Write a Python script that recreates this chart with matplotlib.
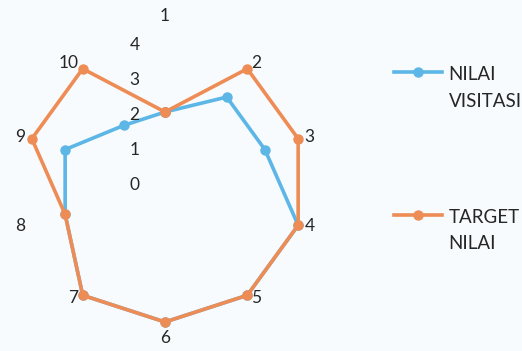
import numpy as np
import matplotlib
matplotlib.use("Agg")
import matplotlib.pyplot as plt
from matplotlib.legend_handler import HandlerLine2D

categories = ["1", "2", "3", "4", "5", "6", "7", "8", "9", "10"]
nilai_visitasi = [2, 3, 3, 4, 4, 4, 4, 3, 3, 2]
target_nilai = [2, 4, 4, 4, 4, 4, 4, 3, 4, 4]
radial_ticks = [0, 1, 2, 3, 4]
series_labels = ["NILAI\nVISITASI", "TARGET\nNILAI"]

BLUE = "#5cb6e6"
ORANGE = "#ee8c55"
BG = "#f8fbfd"
TXT = "#262626"
FONT = "Lato"
FS = 12.5
LFS = 13.5

plt.rcParams["font.family"] = [FONT, "DejaVu Sans"]

W, H = 522, 351
fig = plt.figure(figsize=(W / 100, H / 100), dpi=100, facecolor=BG)
cx, cy, R = 165, 182, 140
ax = fig.add_axes([(cx - R) / W, (H - cy - R) / H, 2 * R / W, 2 * R / H], projection="polar")
ax.set_facecolor("none")
ax.set_theta_zero_location("N")
ax.set_theta_direction(-1)
ax.set_ylim(0, max(radial_ticks))
ax.grid(False)
ax.spines["polar"].set_visible(False)
ax.set_xticks([])
ax.set_yticks([])

n = len(categories)
theta = np.arange(n) * 2 * np.pi / n
th = np.append(theta, theta[0])

lv, = ax.plot(th, nilai_visitasi + nilai_visitasi[:1], color=BLUE, lw=2.6,
              marker="o", ms=6.5, label=series_labels[0], zorder=3, clip_on=False)
lt, = ax.plot(th, target_nilai + target_nilai[:1], color=ORANGE, lw=2.6,
              marker="o", ms=6.5, label=series_labels[1], zorder=4, clip_on=False)

# category labels, placed around the outer ring
for t, lab in zip(theta, categories):
    s, c = np.sin(t), np.cos(t)
    if abs(s) < 0.1:
        ha = "center"
        va = "bottom" if c > 0 else "top"
        off = (0, 13 if c > 0 else -6)
    else:
        ha = "left" if s > 0 else "right"
        va = "center"
        off = (5 * s, 5 * c if c > 0 else 2.5 * c)
    ax.annotate(lab, xy=(t, max(radial_ticks)), xytext=off,
                textcoords="offset points", ha=ha, va=va,
                fontsize=FS, color=TXT, annotation_clip=False)

# radial labels left of vertical axis
for v in radial_ticks:
    ax.annotate(str(v), xy=(0, v), xytext=(-22, -2), textcoords="offset points",
                ha="center", va="center", fontsize=FS, color=TXT, annotation_clip=False)


class FirstLineHandler(HandlerLine2D):
    def create_artists(self, legend, orig_handle, xdescent, ydescent, width,
                       height, fontsize, trans):
        arts = super().create_artists(legend, orig_handle, xdescent, ydescent,
                                      width, height, fontsize, trans)
        for a in arts:
            y = np.asarray(a.get_ydata(), float)
            a.set_ydata(y + 11.7)
        return arts


leg = fig.legend(handles=[lv, lt], loc="upper left", bbox_to_anchor=(0.722, 0.86),
                 frameon=False, fontsize=LFS, handlelength=2.56, handletextpad=0.37,
                 labelspacing=5.27, labelcolor=TXT,
                 handler_map={lv: FirstLineHandler(), lt: FirstLineHandler()})
for tx in leg.get_texts():
    tx.set_linespacing(1.7)

fig.savefig("out.png", dpi=100, facecolor=BG)
